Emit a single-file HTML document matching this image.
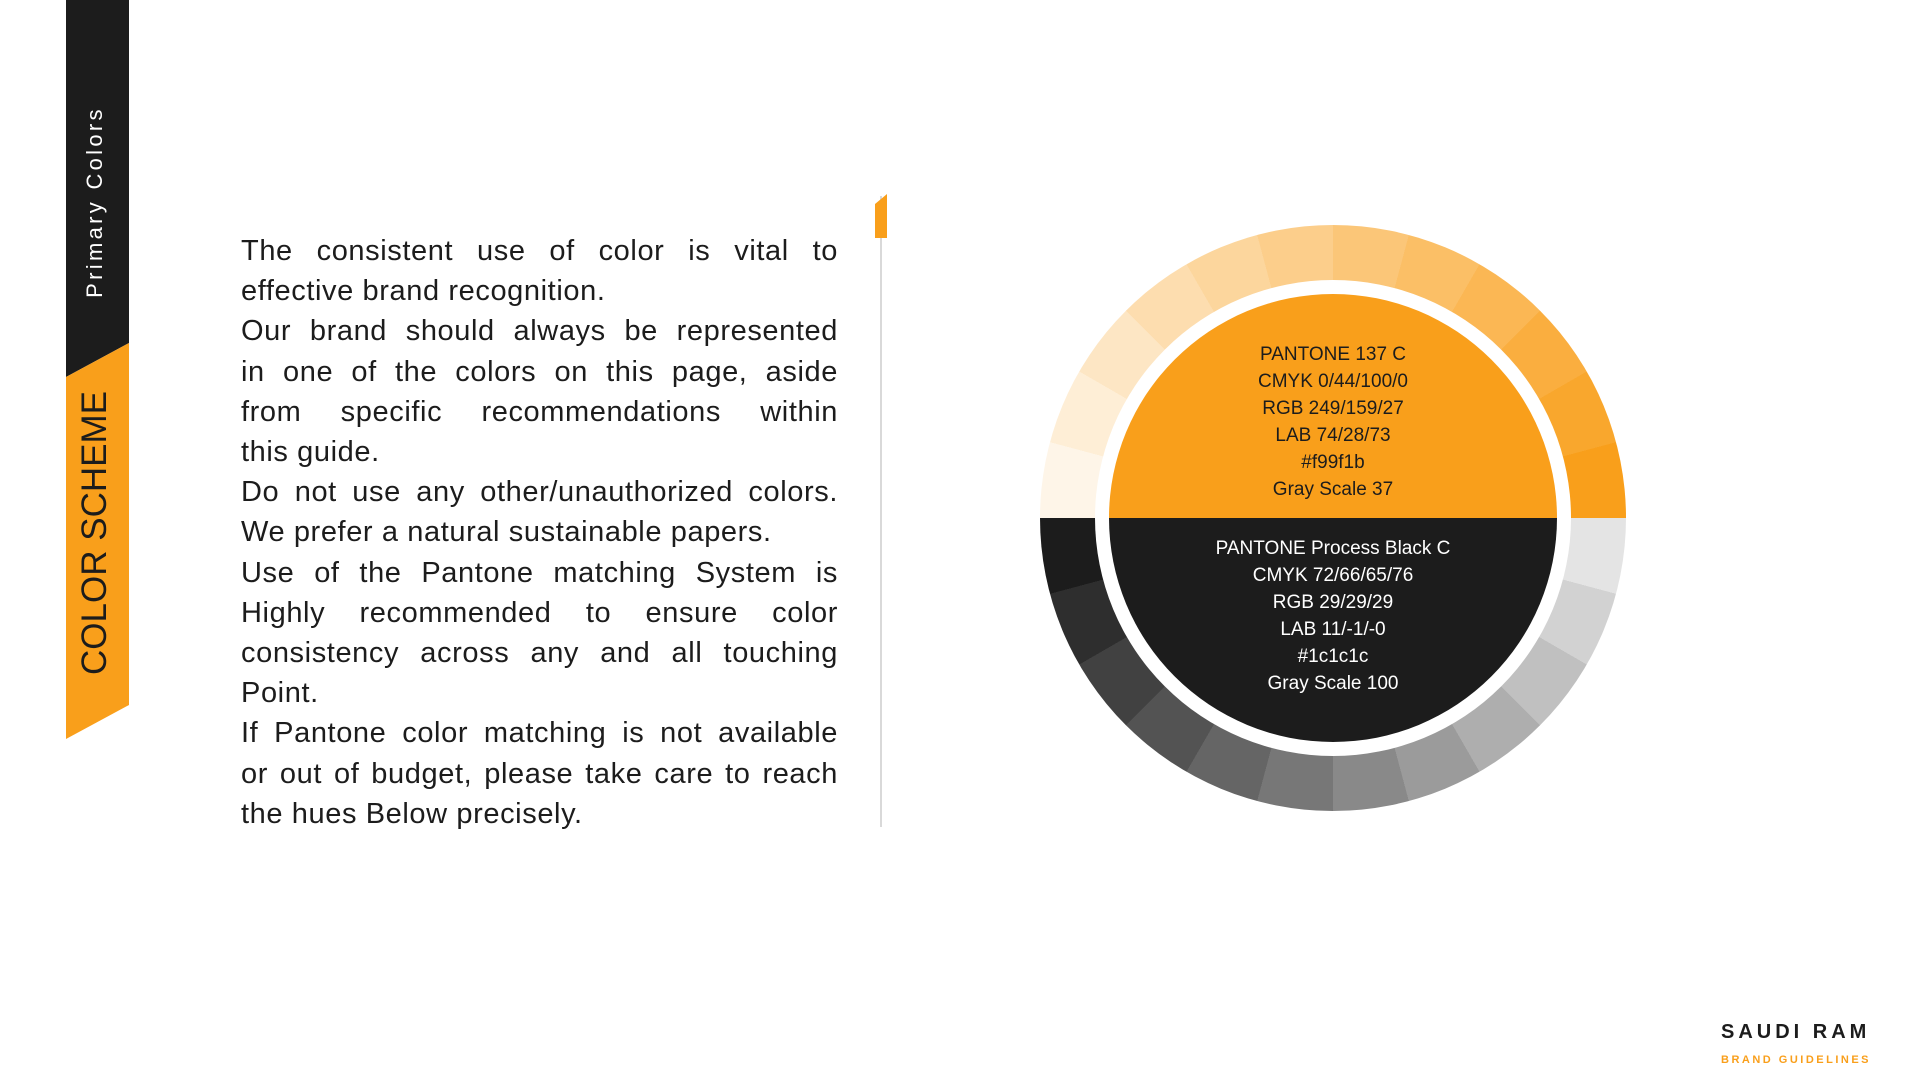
<!DOCTYPE html>
<html><head><meta charset="utf-8"><style>
html,body{margin:0;padding:0;background:#fff;width:1920px;height:1080px;overflow:hidden;position:relative;font-family:"Liberation Sans",sans-serif}
.abs{position:absolute}
.vt{position:absolute;transform-origin:center;transform:translate(-50%,-50%) rotate(-90deg);white-space:nowrap;left:95px}
.para{position:absolute;left:241px;top:231px;width:597px;font-size:29px;line-height:40.2px;color:#1c1c1c;letter-spacing:0.6px}
.para div{text-align:justify;text-align-last:justify;white-space:nowrap}
.para div.l{text-align-last:left}
.wheel{position:absolute;left:1040px;top:225px;width:586px;height:586px;border-radius:50%;
background:conic-gradient(from 270deg,
#fef5e8 0 15deg,#feeed6 15deg 30deg,#fde6c4 30deg 45deg,#fdddaf 45deg 60deg,#fcd69d 60deg 75deg,#fcce8b 75deg 90deg,#fbc678 90deg 105deg,#fbbf66 105deg 120deg,#fbb754 120deg 135deg,#faae3f 135deg 150deg,#f9a72d 150deg 165deg,#f99f1b 165deg 180deg,
#e4e4e4 180deg 195deg,#d2d2d2 195deg 210deg,#c0c0c0 210deg 225deg,#aeaeae 225deg 240deg,#9b9b9b 240deg 255deg,#898989 255deg 270deg,#777 270deg 285deg,#656565 285deg 300deg,#535353 300deg 315deg,#414141 315deg 330deg,#2e2e2e 330deg 345deg,#1c1c1c 345deg 360deg)}
.ring{position:absolute;left:1095px;top:280px;width:476px;height:476px;border-radius:50%;background:#fff}
.disk{position:absolute;left:1109px;top:294px;width:448px;height:448px;border-radius:50%;overflow:hidden;background:linear-gradient(#f99f1b 0 50%,#1c1c1c 50% 100%)}
.info{position:absolute;left:1133px;width:400px;text-align:center;font-size:19px;line-height:27px}
</style></head><body>
<svg class="abs" style="left:0;top:0" width="200" height="800">
<polygon points="66,0 129,0 129,343 66,377" fill="#1c1c1c"/>
<polygon points="66,377 129,343 129,705 66,739" fill="#f99f1b"/>
</svg>
<div class="vt" style="top:202px;color:#fff;font-size:22px;letter-spacing:3.3px">Primary Colors</div>
<div class="vt" style="top:533px;color:#1c1c1c;font-size:35px">COLOR SCHEME</div>

<div class="para">
<div>The consistent use of color is vital to</div>
<div class="l">effective brand recognition.</div>
<div>Our brand should always be represented</div>
<div>in one of the colors on this page, aside</div>
<div>from specific recommendations within</div>
<div class="l">this guide.</div>
<div>Do not use any other/unauthorized colors.</div>
<div class="l">We prefer a natural sustainable papers.</div>
<div>Use of the Pantone matching System is</div>
<div>Highly recommended to ensure color</div>
<div>consistency across any and all touching</div>
<div class="l">Point.</div>
<div>If Pantone color matching is not available</div>
<div>or out of budget, please take care to reach</div>
<div class="l">the hues Below precisely.</div>
</div>

<div class="abs" style="left:880px;top:196px;width:2px;height:631px;background:#d9d9d9"></div>
<svg class="abs" style="left:875px;top:194px" width="13" height="45"><polygon points="0,10 12,0 12,44 0,44" fill="#f99f1b"/></svg>

<div class="wheel"></div>
<div class="ring"></div>
<div class="disk"></div>
<div class="info" style="top:341px;color:#1c1c1c">PANTONE 137 C<br>CMYK 0/44/100/0<br>RGB 249/159/27<br>LAB 74/28/73<br>#f99f1b<br>Gray Scale 37</div>
<div class="info" style="top:535px;color:#fff">PANTONE Process Black C<br>CMYK 72/66/65/76<br>RGB 29/29/29<br>LAB 11/-1/-0<br>#1c1c1c<br>Gray Scale 100</div>

<div class="abs" style="left:1721px;top:1021px;font-size:20px;letter-spacing:4px;color:#1c1c1c;font-weight:bold;white-space:nowrap">SAUDI RAM</div>
<div class="abs" style="left:1721px;top:1054px;font-size:11px;letter-spacing:2.5px;color:#f99f1b;font-weight:bold;white-space:nowrap">BRAND GUIDELINES</div>
</body></html>
